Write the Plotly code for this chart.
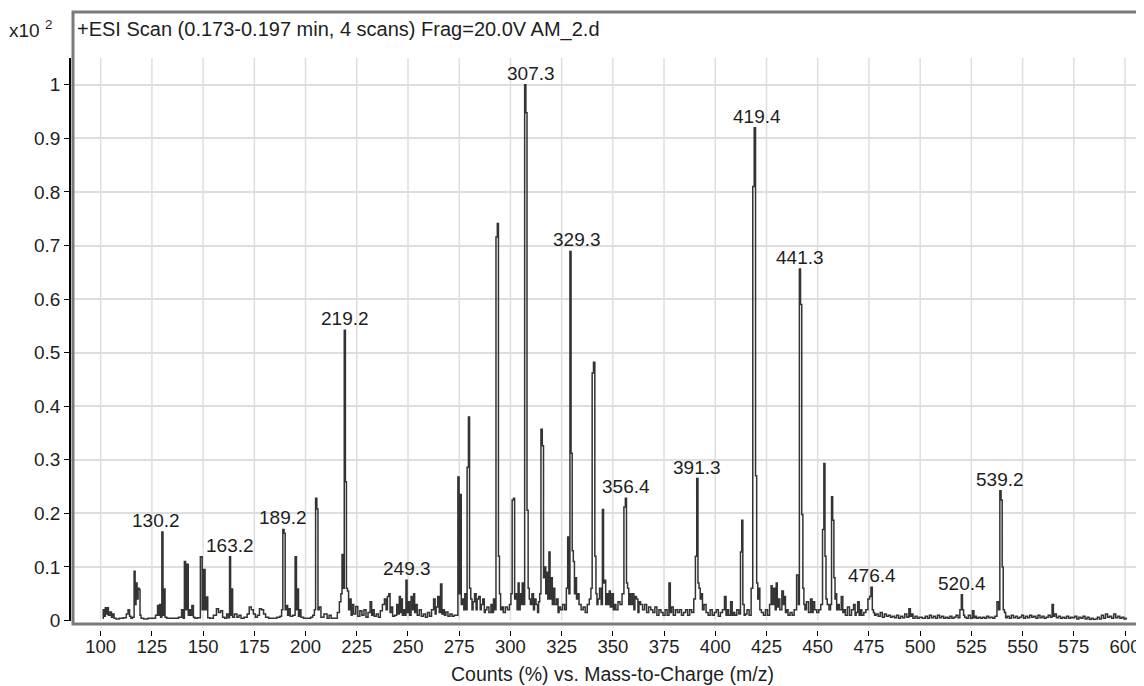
import plotly.graph_objects as go

# ---------------- data (m/z, counts x10^2) ----------------
seg_100_160 = [(101, .004), (101.5, .02), (102, .008), (102.5, .024), (103, .012), (103.5, .024), (104, .01),
               (105, .016), (105.5, .006), (106, .012), (107, .004), (108, .003), (110, .004), (112, .005),
               (113, .012), (113.7, .02), (114.5, .008), (115, .004), (116, .006), (116.6, .092), (117, .03),
               (117.5, .07), (118, .04), (118.5, .06), (119, .058), (119.4, .01), (120, .004), (122, .003),
               (124, .004), (126, .004), (127.5, .01), (128, .028), (128.5, .01), (129, .03), (129.5, .006),
               (130.2, .165), (130.6, .01), (131.2, .059), (131.6, .006), (133, .004), (135, .004), (137, .004),
               (139, .006), (140, .02), (140.5, .004), (141.2, .11), (141.7, .02), (142.5, .105), (143, .01),
               (143.5, .02), (144, .01), (145, .028), (145.5, .006), (146.5, .004), (148, .005), (149.3, .119),
               (149.8, .02), (150.7, .095), (151.2, .02), (152, .044), (152.5, .005), (154, .004), (156, .01),
               (157, .022), (158, .015), (159, .018), (160, .006)]

seg_160_230 = [(161, .004), (162, .012), (162.6, .005), (163.2, .119), (163.6, .01), (164.2, .059), (164.6, .006),
               (166, .012), (167, .006), (168, .01), (169, .004), (171, .006), (172, .012), (173, .025), (174, .02),
               (175, .012), (176, .006), (177, .01), (178, .022), (179, .02), (180, .012), (181, .006), (183, .004),
               (185, .004), (187, .006), (188, .008), (188.6, .02), (189.2, .17), (189.8, .163), (190.3, .02),
               (191, .028), (191.5, .01), (192, .022), (193, .008), (194.5, .01), (195.3, .119), (195.8, .02),
               (196.3, .059), (196.8, .008), (197.5, .02), (198, .006), (200, .004), (202, .004), (203, .006),
               (204, .01), (204.6, .02), (205.2, .228), (205.8, .208), (206.3, .02), (207, .025), (208, .006),
               (210, .012), (211, .004), (212, .01), (213, .004), (215, .004), (216, .015), (217, .035),
               (217.5, .05), (218.1, .123), (218.6, .06), (219.2, .542), (219.7, .259), (220.2, .06), (220.7, .055),
               (221.3, .02), (222, .04), (222.5, .01), (223, .03), (224, .012), (225, .026), (226, .008),
               (227, .018), (228, .01), (229, .02), (230, .006)]

seg_230_300 = [(231, .015), (232, .035), (232.5, .01), (233, .02), (234, .008), (235, .012), (236, .006),
               (237, .018), (238, .03), (239, .04), (239.6, .02), (240.3, .045), (241, .05), (241.5, .015),
               (242, .025), (243, .008), (244, .01), (245, .03), (245.5, .012), (246, .045), (246.6, .015),
               (247, .04), (247.5, .01), (248, .02), (248.7, .01), (249.3, .075), (249.8, .015), (250.5, .035),
               (251, .01), (252, .045), (252.5, .02), (253, .05), (253.5, .015), (254, .03), (255, .01),
               (256, .02), (257, .008), (258, .012), (259, .006), (260, .015), (261, .008), (262, .02), (263, .04),
               (263.5, .012), (264, .025), (265, .045), (265.5, .015), (266.3, .068), (266.8, .012), (267.5, .02),
               (268, .01), (269, .016), (270, .008), (271, .012), (272, .008), (273, .01), (274, .01),
               (274.7, .268), (275.2, .05), (275.7, .235), (276.3, .03), (277, .04), (277.5, .02), (278, .05),
               (278.5, .02), (279.2, .286), (279.8, .38), (280.3, .06), (281, .04), (281.5, .02), (282, .035),
               (283, .05), (283.5, .02), (284, .04), (285, .045), (285.5, .02), (286, .03), (287, .04),
               (287.5, .015), (288, .02), (289, .025), (290, .015), (291, .03), (291.5, .015), (292, .04),
               (292.6, .02), (293.3, .716), (293.9, .741), (294.4, .12), (294.9, .05), (295.5, .02), (296, .025),
               (297, .015), (298, .025), (299, .02), (300, .03)]

seg_300_360 = [(300.5, .05), (301.2, .225), (301.8, .228), (302.3, .04), (303, .05), (303.5, .02), (304, .07),
               (304.5, .02), (305, .05), (305.5, .03), (306, .07), (306.6, .03), (307.3, 1.0), (307.8, .948),
               (308.4, .206), (308.9, .06), (309.5, .04), (310, .03), (311, .05), (311.5, .02), (312, .04),
               (313, .03), (313.5, .015), (314, .035), (314.6, .05), (315.2, .357), (315.9, .326), (316.4, .08),
               (317, .1), (317.5, .05), (318, .09), (318.5, .04), (319.1, .128), (319.6, .04), (320.2, .08),
               (320.7, .03), (321.3, .06), (322, .03), (323, .04), (323.5, .015), (324, .025), (325, .02),
               (326, .03), (327, .02), (327.6, .06), (328.3, .156), (328.8, .05), (329.3, .689), (329.9, .312),
               (330.4, .13), (331, .11), (331.5, .05), (332, .08), (332.5, .04), (333, .05), (334, .03),
               (335, .02), (336, .025), (337, .015), (338, .03), (339, .04), (339.6, .06), (340.2, .462),
               (340.9, .482), (341.5, .12), (342, .05), (342.5, .03), (343, .04), (344, .06), (344.6, .03),
               (345.2, .207), (345.7, .07), (346.2, .075), (346.8, .03), (347.5, .05), (348, .03), (348.5, .055),
               (349, .025), (350, .05), (350.5, .02), (351, .03), (352, .02), (353, .035), (354, .03), (355, .05),
               (355.8, .212), (356.4, .228), (356.9, .07), (357.5, .06), (358, .03), (358.5, .05), (359, .03),
               (360, .05)]

seg_360_430 = [(360.5, .02), (361, .045), (362, .04), (362.5, .015), (363, .035), (364, .03), (365, .02),
               (366, .03), (367, .015), (368, .025), (369, .02), (370, .015), (371, .025), (372, .01), (373, .02),
               (374, .015), (375, .01), (376, .02), (377, .01), (377.8, .07), (378.3, .015), (379, .025),
               (380, .01), (381, .02), (382, .015), (383, .02), (384, .01), (385, .015), (386, .02), (387, .01),
               (388, .02), (389, .015), (390, .04), (390.6, .12), (391.3, .265), (391.8, .07), (392.3, .06),
               (393, .04), (393.5, .05), (394, .02), (395, .03), (396, .015), (397, .01), (398, .02), (399, .01),
               (400, .015), (401, .02), (402, .008), (403, .015), (404, .02), (405, .045), (405.5, .01),
               (406, .02), (407, .01), (408, .035), (408.5, .01), (409, .015), (410, .01), (411, .02),
               (412, .012), (412.6, .128), (413.2, .187), (413.7, .03), (414.5, .01), (415, .012), (416, .02),
               (417, .01), (418, .06), (418.6, .81), (419.4, .92), (419.9, .27), (420.5, .07), (421, .04),
               (421.5, .06), (422, .02), (423, .015), (424, .01), (425, .02), (426, .01), (427, .03),
               (427.5, .065), (428, .03), (429, .06), (429.5, .02), (430, .07)]

seg_430_500 = [(430.5, .025), (431, .04), (432, .02), (433, .055), (433.5, .03), (434, .045), (434.5, .015),
               (435, .02), (436, .01), (437, .015), (438, .01), (439, .02), (440.4, .085), (440.8, .03),
               (441.3, .656), (441.9, .59), (442.5, .198), (443, .06), (443.5, .03), (444, .02), (445, .035),
               (446, .015), (447, .04), (447.5, .015), (448, .035), (449, .02), (450, .015), (451, .02),
               (452, .03), (452.7, .17), (453.3, .293), (453.8, .12), (454.3, .04), (455, .03), (456, .02),
               (456.5, .03), (457.0, .231), (457.6, .187), (458.2, .08), (458.7, .04), (459, .05), (459.5, .02),
               (460, .03), (461, .02), (462, .045), (462.5, .015), (463, .02), (464, .01), (465, .025), (466, .01),
               (467, .02), (468, .03), (468.5, .01), (469, .015), (470, .035), (470.5, .01), (471, .02),
               (472, .01), (473, .015), (474, .02), (475, .04), (475.6, .045), (476.4, .062), (476.9, .02),
               (477.5, .015), (478, .01), (479, .012), (480, .008), (481, .015), (482, .006), (483, .012),
               (484, .008), (485, .01), (486, .006), (487, .008), (488, .005), (489, .01), (490, .004),
               (491, .008), (492, .005), (493, .012), (494, .006), (495, .022), (495.5, .008), (496, .012),
               (497, .004), (498, .008), (499, .004), (500, .006)]

seg_500_601 = [(502, .004), (503, .008), (504, .004), (505, .01), (506, .005), (507, .008), (508, .004),
               (509, .01), (510, .005), (511, .008), (512, .004), (513, .006), (514, .004), (515, .008),
               (516, .004), (517, .006), (518, .01), (519, .005), (519.8, .02), (520.4, .048), (520.9, .02),
               (521.5, .01), (522, .006), (523, .004), (524, .01), (525, .004), (526, .018), (526.5, .005),
               (527, .008), (528, .004), (529, .006), (530, .004), (531, .006), (532, .004), (533, .008),
               (534, .005), (535, .006), (536, .004), (537, .008), (538, .035), (538.6, .02), (539.2, .242),
               (539.8, .225), (540.3, .1), (540.8, .02), (541.5, .015), (542, .005), (543, .008), (544, .004),
               (545, .01), (546, .005), (547, .008), (548, .004), (549, .006), (550, .01), (551, .004),
               (552, .008), (553, .005), (554, .01), (555, .006), (556, .008), (557, .004), (558, .01),
               (559, .005), (560, .008), (561, .004), (562, .006), (563, .01), (564, .006), (564.8, .03),
               (565.3, .008), (566, .012), (567, .005), (568, .008), (569, .004), (570, .006), (571, .004),
               (572, .008), (573, .004), (574, .006), (575, .005), (576, .008), (577, .003), (578, .006),
               (579, .004), (580, .008), (581, .003), (582, .006), (583, .002), (584, .004), (585, .002),
               (586, .003), (587, .006), (588, .003), (589, .01), (590, .004), (591, .012), (592, .006),
               (593, .008), (594, .004), (595, .012), (596, .005), (597, .008), (598, .004), (599, .006),
               (600, .003), (601, .004)]

segments = [seg_100_160, seg_160_230, seg_230_300, seg_300_360, seg_360_430, seg_430_500, seg_500_601]

label_mz = [130.2, 163.2, 189.2, 219.2, 249.3, 307.3, 329.3, 356.4, 391.3, 419.4, 441.3, 476.4, 520.4, 539.2]
label_xshift = [-7, 0, 0, 0, 0, 6, 7, 0, 0, 2, 0, 0, 0, 0]

x_ticks = [100, 125, 150, 175, 200, 225, 250, 275, 300, 325, 350, 375, 400, 425, 450, 475, 500, 525, 550, 575, 600]
y_ticks = [0, 0.1, 0.2, 0.3, 0.4, 0.5, 0.6, 0.7, 0.8, 0.9, 1]
y_ticktext = ["0", "0.1", "0.2", "0.3", "0.4", "0.5", "0.6", "0.7", "0.8", "0.9", "1"]

title_text = "+ESI Scan (0.173-0.197 min, 4 scans) Frag=20.0V AM_2.d"
x_title = "Counts (%) vs. Mass-to-Charge (m/z)"
scale_text = "x10 <sup>2</sup>"

# ---------------- build ----------------
mz = [p[0] for s in segments for p in s]
counts = [p[1] for s in segments for p in s]
lookup = dict(zip(mz, counts))

OFF = 8                      # page body margin: figure sits at (8, 8) in the window
W, H = 1144 - OFF, 686 - OFF
ML, MT, MB = 70 - OFF, 58 - OFF, 56
MR = 0
PW, PH = W - ML - MR, H - MT - MB
ZERO_PX = 620.5              # page pixel of y = 0
FONT = "Liberation Sans"
TXT = "#1e1e1e"


def px_x(p):                 # page pixel -> paper x
    return (p - OFF - ML) / PW


def px_y(p):                 # page pixel -> paper y
    return (H - MB - (p - OFF)) / PH


fig = go.Figure()
fig.add_trace(go.Scatter(x=mz, y=counts, mode="lines", line_shape="hvh",
                         line=dict(color="#333333", width=1.5), hoverinfo="x+y", showlegend=False))

shapes = []
for t in x_ticks:
    shapes.append(dict(type="line", xref="x", yref="y", x0=t, x1=t, y0=-0.006, y1=1.05,
                       line=dict(color="#dedede", width=1.5), layer="below"))
shapes.append(dict(type="rect", xref="paper", yref="paper",
                   x0=px_x(73), x1=1.01, y0=px_y(624), y1=px_y(12),
                   line=dict(color="#7a7a7a", width=3), fillcolor="rgba(0,0,0,0)", layer="above"))

annotations = []
for m, sh in zip(label_mz, label_xshift):
    annotations.append(dict(x=m, y=lookup[m], xref="x", yref="y", text=f"{m:.1f}", showarrow=False,
                            xanchor="center", yanchor="bottom", xshift=sh, yshift=-1,
                            font=dict(family=FONT, size=19, color=TXT)))
annotations.append(dict(x=px_x(7), y=px_y(29), xref="paper", yref="paper", text=scale_text, showarrow=False,
                        xanchor="left", yanchor="middle", font=dict(family=FONT, size=19, color=TXT)))
annotations.append(dict(x=px_x(75), y=px_y(29), xref="paper", yref="paper", text=title_text, showarrow=False,
                        xanchor="left", yanchor="middle", font=dict(family=FONT, size=20, color=TXT)))
annotations.append(dict(x=px_x(612), y=px_y(674), xref="paper", yref="paper", text=x_title, showarrow=False,
                        xanchor="center", yanchor="middle", font=dict(family=FONT, size=19.5, color=TXT)))

x_lo = 100 - (100.7 - 70) / 2.0486
x_hi = 600 + (1144 - 1125) / 2.0486
y_dom0 = (H - MB - (ZERO_PX - OFF)) / PH

fig.update_layout(
    width=W, height=H, margin=dict(l=ML, r=MR, t=MT, b=MB, pad=0, autoexpand=False),
    paper_bgcolor="white", plot_bgcolor="white",
    shapes=shapes, annotations=annotations,
    xaxis=dict(range=[x_lo, x_hi], domain=[0, 1], anchor="free", position=0,
               tickvals=x_ticks, ticks="outside", ticklen=5, tickcolor="#000", tickwidth=1,
               showgrid=False, zeroline=False, showline=False, automargin=False,
               ticklabelstandoff=-5,
               tickfont=dict(family=FONT, size=18.5, color=TXT)),
    yaxis=dict(range=[0, 1.05], domain=[y_dom0, 1], anchor="free", position=0,
               tickvals=y_ticks, ticktext=y_ticktext, ticks="outside", ticklen=5, tickcolor="#000",
               tickwidth=1, showline=True, linecolor="#000", linewidth=1.5, automargin=False,
               showgrid=True, gridcolor="#dedede", gridwidth=1.5, zeroline=False,
               tickfont=dict(family=FONT, size=19, color=TXT)),
)

fig.write_html("out.html")
